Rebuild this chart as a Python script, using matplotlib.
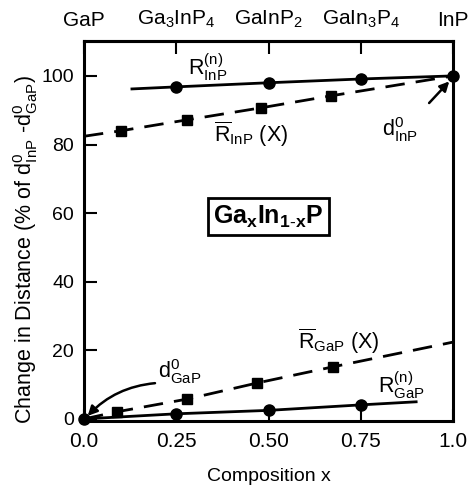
import numpy as np
import matplotlib.pyplot as plt

plt.rcParams['font.family'] = ['Liberation Sans', 'DejaVu Sans']
plt.rcParams['mathtext.fontset'] = 'custom'
plt.rcParams['mathtext.rm'] = 'Liberation Sans'
plt.rcParams['mathtext.it'] = 'Liberation Sans'
plt.rcParams['mathtext.bf'] = 'Liberation Sans:bold'

# R(n) InP: solid line with circles
rn_inp_x = [0.13, 0.25, 0.50, 0.75, 1.0]
rn_inp_y = [96.2, 96.8, 98.0, 99.1, 100.0]
rn_inp_mk = [0.25, 0.50, 0.75, 1.0]

# R-bar InP (X): dashed line with squares
rb_inp_x = [0.0, 0.10, 0.28, 0.48, 0.67, 1.0]
rb_inp_y = [82.4, 84.0, 87.2, 90.7, 94.2, 100.0]
rb_inp_mk = [0.10, 0.28, 0.48, 0.67]

# R-bar GaP (X): dashed line with squares
rb_gap_x = [0.0, 0.09, 0.28, 0.47, 0.675, 1.0]
rb_gap_y = [0.0, 2.1, 5.8, 10.5, 15.2, 22.4]
rb_gap_mk = [0.09, 0.28, 0.47, 0.675]

# R(n) GaP: solid line with circles
rn_gap_x = [0.0, 0.25, 0.50, 0.75, 0.90]
rn_gap_y = [0.0, 1.5, 2.5, 4.1, 5.0]
rn_gap_mk = [0.0, 0.25, 0.50, 0.75]

bottom_ticks = [0.0, 0.25, 0.50, 0.75, 1.0]
bottom_labels = ['0.0', '0.25', '0.50', '0.75', '1.0']
top_labels = ['GaP', r'Ga$_3$InP$_4$', r'GaInP$_2$', r'GaIn$_3$P$_4$', 'InP']
y_ticks = [0, 20, 40, 60, 80, 100]

fig = plt.figure(figsize=(4.69, 4.87), dpi=100)
ax = fig.add_axes([0.179, 0.1355, 0.787, 0.7805])


def pick(xs, ys, keep):
    return [xs[i] for i in range(len(xs)) if xs[i] in keep], \
           [ys[i] for i in range(len(xs)) if xs[i] in keep]


ax.plot(rn_inp_x, rn_inp_y, '-', color='black', lw=2)
mx, my = pick(rn_inp_x, rn_inp_y, rn_inp_mk)
ax.plot(mx, my, 'o', color='black', ms=8, clip_on=False)

ax.plot(rb_inp_x, rb_inp_y, '--', color='black', lw=2, dashes=(7, 4))
mx, my = pick(rb_inp_x, rb_inp_y, rb_inp_mk)
ax.plot(mx, my, 's', color='black', ms=7.5)

ax.plot(rb_gap_x, rb_gap_y, '--', color='black', lw=2, dashes=(7, 4))
mx, my = pick(rb_gap_x, rb_gap_y, rb_gap_mk)
ax.plot(mx, my, 's', color='black', ms=7.5)

ax.plot(rn_gap_x, rn_gap_y, '-', color='black', lw=2)
mx, my = pick(rn_gap_x, rn_gap_y, rn_gap_mk)
ax.plot(mx, my, 'o', color='black', ms=8, clip_on=False)

ax.set_xlim(0, 1.0)
ax.set_ylim(-0.6, 110.2)

for s in ax.spines.values():
    s.set_linewidth(2.2)

ax.set_xticks(bottom_ticks)
ax.set_xticklabels(bottom_labels)
ax.set_yticks(y_ticks)
ax.tick_params(axis='y', direction='in', length=9, width=1.5, labelsize=14, pad=7)
ax.tick_params(axis='x', direction='in', length=9, width=1.5, labelsize=15, pad=8)

top = ax.secondary_xaxis('top')
top.set_xticks(bottom_ticks)
top.set_xticklabels(top_labels)
top.tick_params(direction='in', length=9, width=1.5, labelsize=15, pad=8)
top.spines['top'].set_linewidth(2.2)

ax.set_xlabel('Composition x', fontsize=14, labelpad=12)
ax.set_ylabel(r'Change in Distance (% of d$^0_{\mathrm{InP}}$ -d$^0_{\mathrm{GaP}}$)',
              fontsize=15.5)
ax.yaxis.set_label_coords(-0.12, 0.45)

ax.text(0.335, 102.5, r'R$^{(n)}_{\mathrm{InP}}$', fontsize=15.5, ha='center', va='center')
ax.text(0.452, 83.0, r'$\overline{\mathrm{R}}_{\mathrm{InP}}$ (X)', fontsize=15.5,
        ha='center', va='center')
ax.text(0.856, 84.5, r'd$^0_{\mathrm{InP}}$', fontsize=15.5, ha='center', va='center')
ax.annotate('', xy=(0.995, 99.0), xytext=(0.93, 91.5),
            arrowprops=dict(arrowstyle='-|>', color='black', lw=1.8, mutation_scale=14))

ax.text(0.69, 22.5, r'$\overline{\mathrm{R}}_{\mathrm{GaP}}$ (X)', fontsize=15.5,
        ha='center', va='center')
ax.text(0.86, 10.0, r'R$^{(n)}_{\mathrm{GaP}}$', fontsize=15.5, ha='center', va='center')
ax.text(0.26, 13.7, r'd$^0_{\mathrm{GaP}}$', fontsize=15.5, ha='center', va='center')
ax.annotate('', xy=(0.005, 0.3), xytext=(0.20, 10.5),
            arrowprops=dict(arrowstyle='-|>', color='black', lw=1.8, mutation_scale=14,
                            connectionstyle='arc3,rad=0.2'))

ax.text(0.50, 59.0, r'$\mathbf{Ga_xIn_{1\text{-}x}P}$', fontsize=18, ha='center',
        va='center', fontweight='bold',
        bbox=dict(boxstyle='square,pad=0.22', fc='white', ec='black', lw=2))

fig.savefig('out.png', dpi=100)
